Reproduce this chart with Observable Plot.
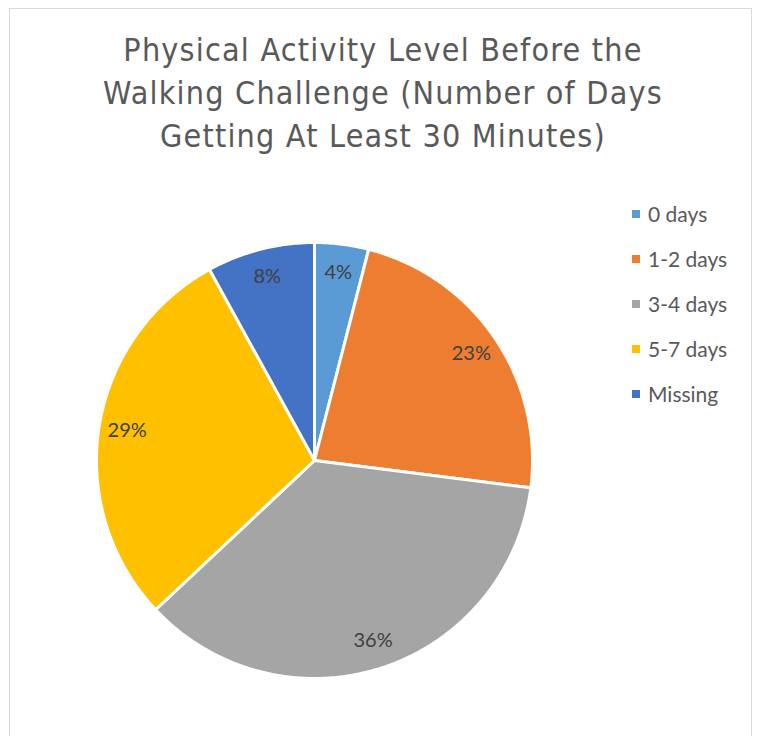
<!DOCTYPE html>
<html>
<head>
<meta charset="utf-8">
<script src="https://cdn.jsdelivr.net/npm/d3@7"></script>
<script src="https://cdn.jsdelivr.net/npm/@observablehq/plot@0.6"></script>
<style>
  html, body { margin: 0; padding: 0; background: #fff; }
  #chart { position: relative; width: 757px; height: 736px; overflow: hidden; }
  #frame { position: absolute; left: 9px; top: 8px; width: 743px; height: 760px; border: 1px solid #d9d9d9; box-sizing: border-box; }
  #title { position: absolute; left: 0; top: 29px; width: 766px; text-align: center;
           font-family: "DejaVu Sans Condensed", "Liberation Sans Narrow", sans-serif; font-size: 32px;
           letter-spacing: 1.2px; line-height: 43px; color: #595959; }
  #plot { position: absolute; left: 0; top: 0; }
  #legend { position: absolute; left: 632px; top: 191px; font-family: Lato, "Open Sans", sans-serif; font-size: 21px; color: #595959; }
  #legend .row { display: flex; align-items: center; height: 45px; }
  #legend .sw { width: 8px; height: 8px; margin-right: 8px; }
</style>
</head>
<body>
<div id="chart">
  <div id="frame"></div>
  <div id="plot"></div>
  <div id="title">Physical Activity Level Before the<br>Walking Challenge (Number of Days<br>Getting At Least 30 Minutes)</div>
  <div id="legend"></div>
</div>
<script>
// Share of participants by days per week with 30+ minutes of activity
const categories = ["0 days", "1-2 days", "3-4 days", "5-7 days", "Missing"];
const percents = [4, 23, 36, 29, 8];
const colors = ["#5B9BD5", "#ED7D31", "#A5A5A5", "#FFC000", "#4472C4"];

const data = categories.map((label, i) => ({label, value: percents[i]}));

// Slice angles, clockwise from 12 o'clock, in chart order
const arcs = d3.pie().sort(null).value(d => d.value)(data);

// Each wedge as a closed polygon in unit-circle coordinates
const wedges = arcs.flatMap(a => {
  const steps = Math.max(2, Math.ceil((a.endAngle - a.startAngle) / 0.01));
  const pts = [{label: a.data.label, x: 0, y: 0}];
  for (let k = 0; k <= steps; k++) {
    const t = a.startAngle + (a.endAngle - a.startAngle) * k / steps;
    pts.push({label: a.data.label, x: Math.sin(t), y: Math.cos(t)});
  }
  return pts;
});

// Data labels placed inside each slice near the rim
const labelRadius = 0.87;
const labels = arcs.map(a => {
  const m = (a.startAngle + a.endAngle) / 2;
  return {text: `${a.data.value}%`, x: labelRadius * Math.sin(m), y: labelRadius * Math.cos(m)};
});

const cx = 314, cy = 460, R = 218;

const chart = Plot.plot({
  width: 757,
  height: 736,
  margin: 0,
  x: {domain: [-1, 1], range: [cx - R, cx + R], axis: null},
  y: {domain: [-1, 1], range: [cy + R, cy - R], axis: null},
  color: {domain: categories, range: colors},
  style: {background: "transparent"},
  marks: [
    Plot.line(wedges, {x: "x", y: "y", z: "label", fill: "label", stroke: "white", strokeWidth: 3, curve: "linear-closed", strokeLinejoin: "round"}),
    Plot.text(labels, {x: "x", y: "y", text: "text", fill: "#404040", fontSize: 20, fontFamily: "Lato, 'Open Sans', sans-serif"})
  ]
});
document.getElementById("plot").appendChild(chart);

// Vertical swatch legend
const legend = document.getElementById("legend");
categories.forEach((c, i) => {
  const row = document.createElement("div");
  row.className = "row";
  const sw = document.createElement("div");
  sw.className = "sw";
  sw.style.background = colors[i];
  const tx = document.createElement("span");
  tx.textContent = c;
  row.appendChild(sw);
  row.appendChild(tx);
  legend.appendChild(row);
});
</script>
</body>
</html>
